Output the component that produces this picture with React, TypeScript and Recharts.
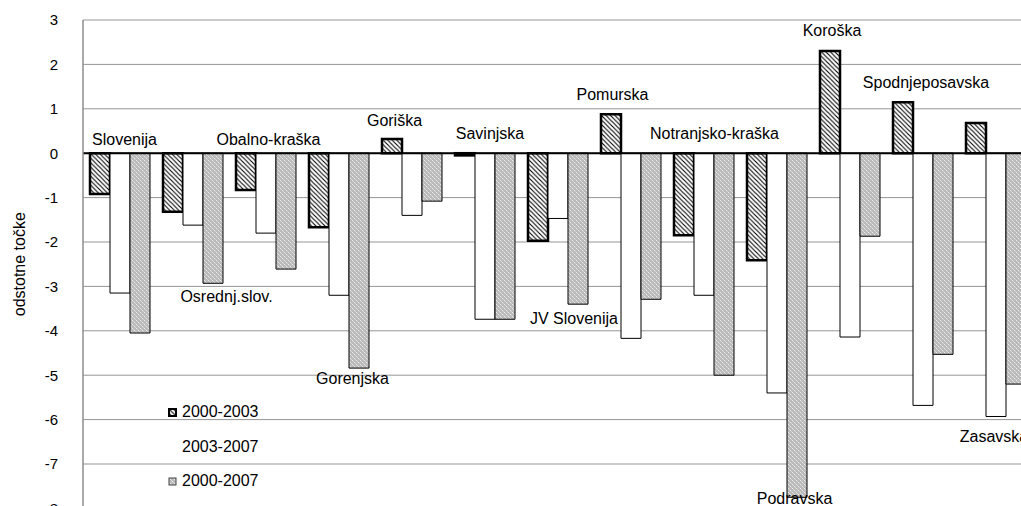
import {
  Bar,
  CartesianGrid,
  ComposedChart,
  LabelList,
  Legend,
  Line,
  ReferenceLine,
  XAxis,
  YAxis,
} from 'recharts';

const FONT = '"Liberation Sans", Arial, sans-serif';

const categories = [
  'Slovenija',
  'Osrednj.slov.',
  'Obalno-kraška',
  'Gorenjska',
  'Goriška',
  'Savinjska',
  'JV Slovenija',
  'Pomurska',
  'Notranjsko-kraška',
  'Podravska',
  'Koroška',
  'Spodnjeposavska',
  'Zasavska',
];

const change2000_2003 = [-0.92, -1.32, -0.83, -1.67, 0.32, -0.05, -1.97, 0.88, -1.85, -2.41, 2.3, 1.15, 0.68];
const change2003_2007 = [-3.15, -1.62, -1.8, -3.2, -1.4, -3.74, -1.47, -4.17, -3.2, -5.4, -4.14, -5.68, -5.93];
const change2000_2007 = [-4.05, -2.93, -2.61, -4.84, -1.08, -3.74, -3.4, -3.29, -5.0, -7.75, -1.87, -4.53, -5.2];

// where the region name sits, in axis units (y) and a small sideways nudge
const labelValue = [0.315, -3.22, 0.315, -5.07, 0.75, 0.45, -3.72, 1.33, 0.45, -7.77, 2.76, 1.6, -6.37];
const labelShift = [5, 34, 3, 14, -17, 5.5, 16.5, -18, 11, 18, -17.5, 3.5, -1.5];

const yTicks = [-8, -7, -6, -5, -4, -3, -2, -1, 0, 1, 2, 3];

const seriesNames = ['2000-2003', '2003-2007', '2000-2007'];

const chartData = categories.map((name, i) => ({
  name,
  a: change2000_2003[i],
  b: change2003_2007[i],
  c: change2000_2007[i],
  labelY: labelValue[i],
}));

function Patterns() {
  return (
    <svg width={0} height={0} style={{ position: 'absolute' }}>
      <defs>
        <pattern id="hatch" patternUnits="userSpaceOnUse" width={4.5} height={4.5}>
          <rect width={4.5} height={4.5} fill="#fff" />
          <path d="M-1,-1 L5.5,5.5 M-1,3.5 L1,5.5 M3.5,-1 L5.5,1" stroke="#000" strokeWidth={1.1} />
        </pattern>
        <pattern id="dots" patternUnits="userSpaceOnUse" width={4} height={4}>
          <rect width={4} height={4} fill="#bababa" />
          <rect x={0} y={0} width={1} height={1} fill="#ececec" />
          <rect x={2} y={2} width={1} height={1} fill="#ececec" />
          <rect x={1} y={1} width={1} height={1} fill="#d4d4d4" />
          <rect x={3} y={3} width={1} height={1} fill="#d4d4d4" />
        </pattern>
      </defs>
    </svg>
  );
}

const legendIcons = [
  { fill: 'url(#hatch)', stroke: '#000', strokeWidth: 2 },
  { fill: '#fff', stroke: '#fff', strokeWidth: 1 },
  { fill: 'url(#dots)', stroke: '#444', strokeWidth: 1 },
];

function LegendBox() {
  return (
    <div style={{ fontFamily: FONT, fontSize: 16, color: '#000' }}>
      {seriesNames.map((name, i) => (
        <div key={name} style={{ display: 'flex', alignItems: 'center', height: 34.5 }}>
          <svg width={9} height={9} style={{ marginRight: 5 }}>
            <rect
              x={1}
              y={1}
              width={7}
              height={7}
              fill={legendIcons[i].fill}
              stroke={legendIcons[i].stroke}
              strokeWidth={legendIcons[i].strokeWidth}
            />
          </svg>
          <span>{name}</span>
        </div>
      ))}
    </div>
  );
}

const regionLabel = (props: any) => {
  const { x, y, index } = props;
  return (
    <text
      x={x + labelShift[index]}
      y={y}
      dy="0.35em"
      textAnchor="middle"
      fontFamily={FONT}
      fontSize={16}
      fill="#000"
    >
      {categories[index]}
    </text>
  );
};

const axisTitle = (props: any) => {
  const { x, y, height } = props.viewBox;
  return (
    <text
      transform={`translate(${x + 19}, ${y + height / 2}) rotate(-90)`}
      textAnchor="middle"
      dy="0.35em"
      fontFamily={FONT}
      fontSize={16}
      fill="#000"
    >
      odstotne točke
    </text>
  );
};

export default function App() {
  return (
    <div
      style={{
        position: 'fixed',
        left: 0,
        top: 0,
        width: 1021,
        height: 506,
        overflow: 'hidden',
        background: '#fff',
      }}
    >
      <Patterns />
      <ComposedChart
        width={1040}
        height={520}
        data={chartData}
        margin={{ top: 20, right: 8, bottom: 11.6, left: 0 }}
        barGap={0}
        barSize={20}
      >
        <CartesianGrid vertical={false} stroke="#969696" strokeWidth={1} />
        <XAxis dataKey="name" hide />
        <YAxis
          width={83}
          domain={[-8, 3]}
          ticks={yTicks}
          interval={0}
          tickLine={false}
          tickSize={0}
          tickMargin={25}
          axisLine={{ stroke: '#8c8c8c', strokeWidth: 1.5 }}
          tick={{ fill: '#000', fontSize: 15, fontFamily: FONT }}
          label={axisTitle}
        />
        <Legend
          layout="vertical"
          align="center"
          verticalAlign="middle"
          wrapperStyle={{ left: 168, top: 394.75, width: 'auto' }}
          content={() => <LegendBox />}
        />
        <Bar dataKey="a" name={seriesNames[0]} fill="url(#hatch)" stroke="#000" strokeWidth={2.5} isAnimationActive={false} />
        <Bar dataKey="b" name={seriesNames[1]} fill="#fff" stroke="#000" strokeWidth={1} isAnimationActive={false} />
        <Bar dataKey="c" name={seriesNames[2]} fill="url(#dots)" stroke="#000" strokeWidth={1} isAnimationActive={false} />
        <ReferenceLine y={0} stroke="#000" strokeWidth={2} />
        <Line
          dataKey="labelY"
          stroke="none"
          dot={false}
          activeDot={false}
          legendType="none"
          isAnimationActive={false}
        >
          <LabelList dataKey="labelY" content={regionLabel} />
        </Line>
      </ComposedChart>
    </div>
  );
}
